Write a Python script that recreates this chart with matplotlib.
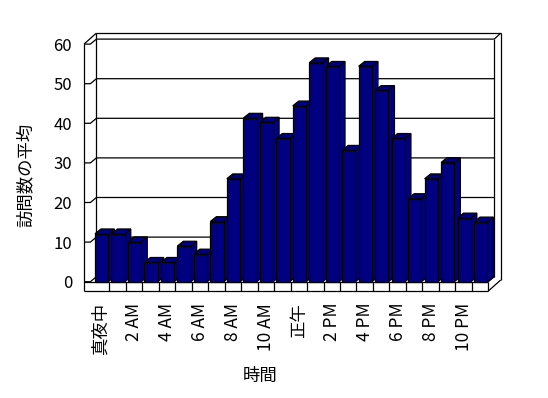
import matplotlib
matplotlib.use("Agg")
import matplotlib.pyplot as plt
from matplotlib.patches import Polygon

plt.rcParams['font.family'] = ['Noto Sans CJK JP', 'DejaVu Sans']

# ---- data ----
hours = list(range(24))
visits = [12.1, 12.1, 10.1, 4.9, 4.9, 9.0, 7.0, 15.2, 26.0, 41.3, 40.3, 36.2,
          44.4, 55.3, 54.4, 33.2, 54.4, 48.3, 36.2, 21.0, 26.0, 30.1, 16.1, 15.1]
tick_labels = ['真夜中', '2 AM', '4 AM', '6 AM', '8 AM', '10 AM',
               '正午', '2 PM', '4 PM', '6 PM', '8 PM', '10 PM']
yticks = [0, 10, 20, 30, 40, 50, 60]
ylabel = '訪問数の平均'
xlabel = '時間'

# ---- layout (pixel mapping) ----
FW, FH = 548, 398
X0, W = 92.8, 16.48      # px of category 0 left edge, px per category
Y0, H = 281.7, 3.96      # px of value 0 (front), px per value unit

fig = plt.figure(figsize=(FW / 100, FH / 100), dpi=100)
ax = fig.add_axes([0, 0, 1, 1])
ax.set_xlim(-X0 / W, (FW - X0) / W)
ax.set_ylim((Y0 - FH) / H, Y0 / H)

n = len(hours)
ymax = max(yticks)
xo = (84 - X0) / W           # outer front edge of left wall
xi = xo + 6.4 / W            # inner front edge of left wall
dx, dy = 6.0 / W, 5.0 / H    # depth (front plane -> back wall face)
tx, ty = 6.4 / W, 6.0 / H    # wall thickness
floor = -(291 - Y0) / H      # bottom of floor slab

LC = 'black'
LW = 0.9
navy = '#000080'

def line(xs, ys, z=2):
    ax.plot(xs, ys, color=LC, lw=LW, solid_capstyle='butt', zorder=z, clip_on=False)

# back wall + left wall gridlines
for v in yticks:
    line([xo, xi, xi + dx, n + dx], [v, v, v + dy, v + dy], z=1)

# back wall right edge, thickness
bx_in = xi + dx
line([n + dx, n + dx], [dy, ymax + dy])
line([n + dx, n + dx + tx], [ymax + dy, ymax + dy + ty])
line([bx_in, n + dx + tx], [ymax + dy + ty, ymax + dy + ty])
line([n + dx + tx, n + dx + tx], [ymax + dy + ty, floor + dy + ty])
# back-left corner
line([bx_in, bx_in], [dy, ymax + dy + ty])
# left wall
line([xo, xo], [floor, ymax])
line([xo, bx_in], [ymax, ymax + dy + ty])

# floor front strip
ax.add_patch(Polygon([[xo, floor], [n, floor], [n, 0], [xo, 0]], closed=True,
                     facecolor='white', edgecolor='none', zorder=1))
line([xo, n], [floor, floor])
line([xo, n], [0, 0])
for i in range(1, n + 1):
    line([i, i], [floor, 0])
# floor right side
line([n, n + dx], [0, dy])
line([n, n + dx + tx], [floor, floor + dy + ty])

# bars
g0, g1 = 0.133, 0.94
bdx, bdy = dx, 4.8 / H
for i, v in zip(hours, visits):
    x0, x1 = i + g0, i + g1
    z = 5 + i
    front = [[x0, 0], [x1, 0], [x1, v], [x0, v]]
    top = [[x0, v], [x1, v], [x1 + bdx, v + bdy], [x0 + bdx, v + bdy]]
    side = [[x1, 0], [x1 + bdx, bdy], [x1 + bdx, v + bdy], [x1, v]]
    for poly in (side, top, front):
        ax.add_patch(Polygon(poly, closed=True, facecolor=navy, edgecolor=LC,
                             lw=LW, joinstyle='miter', zorder=z))

# axes / ticks
for s in ('top', 'right'):
    ax.spines[s].set_visible(False)
ax.spines['left'].set_position(('data', xo))
ax.spines['bottom'].set_position(('data', floor))
ax.spines['left'].set_color('none')
ax.spines['bottom'].set_color('none')
ax.patch.set_facecolor('white')

ax.set_yticks(yticks)
ax.set_yticklabels([str(t) for t in yticks])
ax.tick_params(axis='y', length=0, pad=8.5, labelsize=12)
ax.set_xticks([h + 0.5 for h in hours[::2]])
ax.set_xticklabels(tick_labels, rotation=90)
ax.tick_params(axis='x', length=0, pad=8.5, labelsize=12.5)

fig.text(26 / FW, 1 - 175 / FH, ylabel, rotation=90, ha='center', va='center', fontsize=12.5)
fig.text(260 / FW, 1 - 376 / FH, xlabel, ha='center', va='center', fontsize=12.5)

fig.savefig('out.png', dpi=100, facecolor='white')
